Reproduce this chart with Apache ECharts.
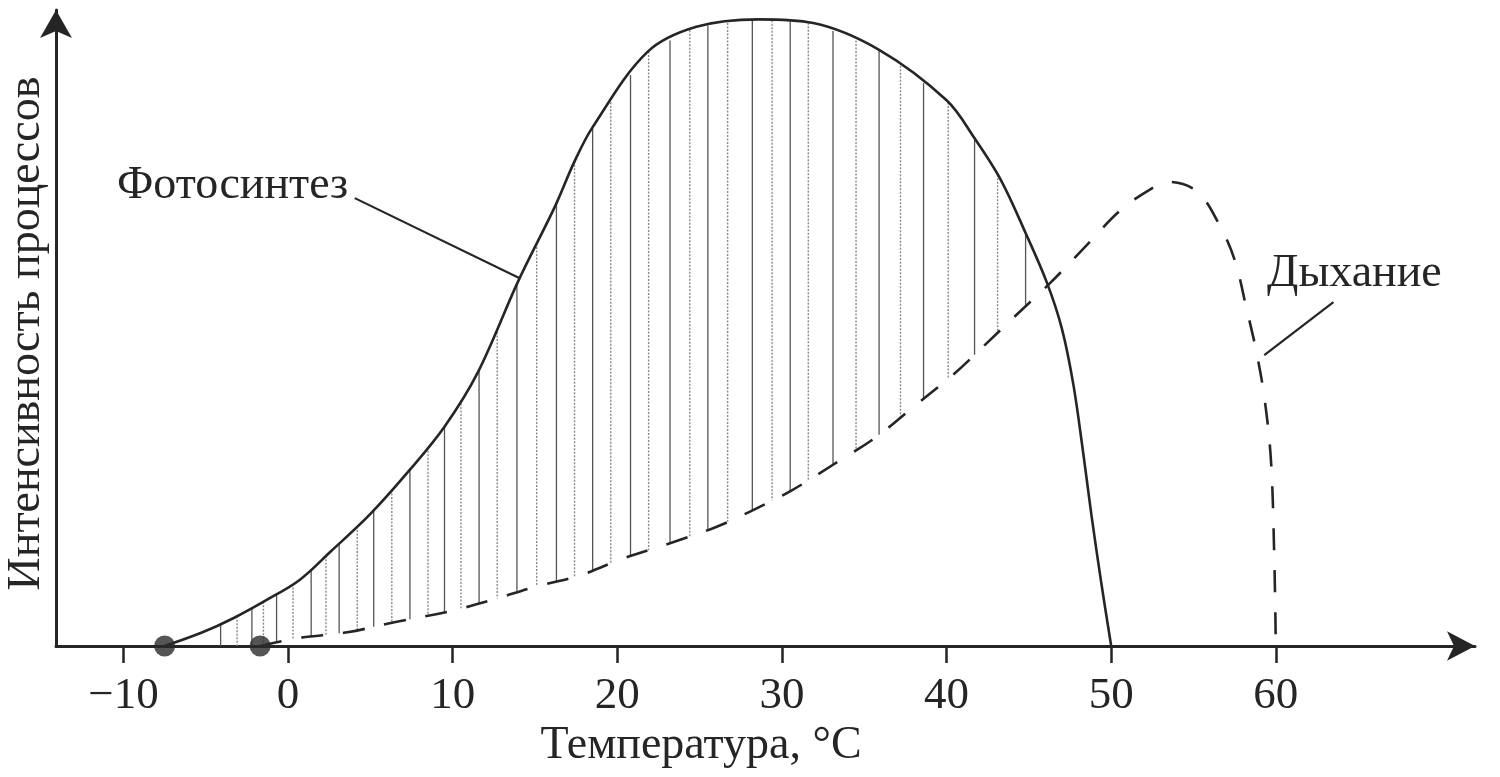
<!DOCTYPE html>
<html>
<head>
<meta charset="utf-8">
<script src="https://cdn.jsdelivr.net/npm/echarts@6/dist/echarts.min.js"></script>
<style>
html,body{margin:0;padding:0;background:#fff;}
#chart{width:1500px;height:777px;}
</style>
</head>
<body>
<div id="chart"></div>
<script>
// ---- data ----
const xTickValues = [-10, 0, 10, 20, 30, 40, 50, 60];

const photoTemp  = [-7.5, -5.2, -3.3, -1.3, 0.7, 2.6, 5.0, 7.4, 9.5, 11.5, 14.0, 16.2, 17.4, 18.5, 21.8, 24.8, 28.6, 31.9, 35.9, 40.0, 41.7, 43.3, 44.8, 46.1, 47.0, 47.7, 48.3, 48.8, 49.4, 50.0];
const photoValue = [0, 2.2, 4.5, 7.4, 10.6, 15.2, 21.2, 28.3, 35.2, 43.8, 58.7, 70.5, 77.8, 83.3, 95.3, 99.4, 100.6, 100.0, 95.7, 87.6, 81.5, 74.8, 66.3, 58.3, 51.0, 42.0, 31.0, 21.0, 10.1, 0];

const respTemp  = [-1.7, 0.7, 3.6, 6.6, 9.7, 12.4, 15.0, 17.8, 20.4, 23.2, 26.0, 28.0, 30.6, 33.1, 35.7, 38.0, 40.5, 42.2, 44.3, 46.3, 48.5, 50.5, 52.3, 53.5, 55.2, 56.5, 57.5, 58.2, 58.8, 59.3, 59.7, 59.9, 60.0];
const respValue = [0, 1.3, 2.2, 3.9, 5.5, 7.4, 9.5, 11.4, 14.1, 16.5, 19.1, 21.5, 25.0, 29.1, 33.5, 38.4, 43.8, 48.0, 53.3, 58.3, 64.3, 69.8, 73.2, 74.5, 73.0, 68.0, 62.0, 54.4, 47.5, 40.0, 30.0, 15.0, 0];

// x positions of the vertical hatch strokes between the curves
const hatchTemp = [-4.1, -3.1, -2.2, -1.5, -0.7, 0.3, 1.4, 2.3, 3.1, 4.2, 5.2, 6.3, 7.4, 8.5, 9.5, 10.5, 11.6, 12.7, 13.9, 15.1, 16.3, 17.4, 18.5, 19.6, 20.8, 21.9, 23.2, 24.4, 25.5, 26.7, 28.2, 29.4, 30.5, 31.6, 33.1, 34.5, 35.9, 37.2, 38.6, 40.1, 41.7, 43.1, 44.8];

const labelPhoto = 'Фотосинтез';
const labelResp = 'Дыхание';
const xName = 'Температура, °C';
const yName = 'Интенсивность процессов';

// ---- helpers ----
function interp(xs, ys, x) {
  if (x <= xs[0]) return x < xs[0] ? 0 : ys[0];
  for (let i = 1; i < xs.length; i++) {
    if (x <= xs[i]) {
      const f = (x - xs[i-1]) / (xs[i] - xs[i-1]);
      return ys[i-1] + f * (ys[i] - ys[i-1]);
    }
  }
  return ys[ys.length - 1];
}
const photoData = photoTemp.map((t, i) => [t, photoValue[i]]);
const respData = respTemp.map((t, i) => [t, respValue[i]]);
const hatchData = hatchTemp.map(t => [t, interp(photoTemp, photoValue, t), interp(respTemp, respValue, t)]);

const FONT = '"Liberation Serif", "Times New Roman", serif';
const INK = '#252525';

const chart = echarts.init(document.getElementById('chart'), null, {renderer: 'canvas'});
chart.setOption({
  backgroundColor: '#ffffff',
  animation: false,
  grid: {left: 56, right: 25, top: 10, bottom: 131, containLabel: false, outerBoundsMode: 'none'},
  xAxis: {
    type: 'value',
    min: -14.1,
    max: 72.1,
    name: xName,
    nameLocation: 'middle',
    nameGap: 77,
    nameTextStyle: {fontFamily: FONT, fontSize: 46, color: INK, padding: [0, 129, 0, 0]},
    axisLine: {show: true, onZero: false, symbol: ['none', 'arrow'], symbolSize: [22, 28],
      lineStyle: {color: INK, width: 3}},
    axisTick: {show: true, length: 17, customValues: xTickValues, lineStyle: {color: INK, width: 2.5}},
    axisLabel: {show: true, customValues: xTickValues, margin: 50,
      fontFamily: FONT, fontSize: 45, color: INK, verticalAlign: 'middle',
      formatter: v => (v < 0 ? '\u2212' + Math.abs(v) : String(v))},
    splitLine: {show: false}
  },
  yAxis: {
    type: 'value',
    min: 0,
    max: 102.1,
    name: yName,
    nameLocation: 'middle',
    nameGap: 6,
    nameRotate: 90,
    nameTextStyle: {fontFamily: FONT, fontSize: 46, color: INK, padding: [0, 11, 0, 0]},
    axisLine: {show: true, onZero: false, symbol: ['none', 'arrow'], symbolSize: [24, 28],
      lineStyle: {color: INK, width: 3}},
    axisTick: {show: false},
    axisLabel: {show: false},
    splitLine: {show: false}
  },
  series: [
    {
      type: 'custom',
      name: 'hatch',
      silent: true,
      z: 1,
      clip: false,
      data: hatchData,
      renderItem: function (params, api) {
        const t = api.value(0);
        const top = api.coord([t, api.value(1)]);
        const bot = api.coord([t, api.value(2)]);
        const dotted = params.dataIndex % 2 === 1;
        return {
          type: 'line',
          shape: {x1: top[0], y1: top[1], x2: bot[0], y2: bot[1]},
          style: {stroke: dotted ? '#8a8a8a' : '#555', lineWidth: dotted ? 1.4 : 1.3,
                  lineDash: dotted ? [2, 1.5] : null}
        };
      }
    },
    {
      type: 'line',
      name: labelPhoto,
      data: photoData,
      smooth: 0.35,
      showSymbol: false,
      clip: false,
      z: 3,
      lineStyle: {color: INK, width: 2.6},
      markLine: {
        silent: true, symbol: ['none', 'none'], label: {show: false},
        lineStyle: {color: INK, width: 2.2, type: 'solid'},
        data: [[{coord: [4.05, 71.9]}, {coord: [14.1, 59.0]}]]
      }
    },
    {
      type: 'line',
      name: labelResp,
      data: respData,
      smooth: 0.35,
      showSymbol: false,
      clip: false,
      z: 3,
      lineStyle: {color: INK, width: 2.6, type: [22, 20]},
      markLine: {
        silent: true, symbol: ['none', 'none'], label: {show: false},
        lineStyle: {color: INK, width: 2.2, type: 'solid'},
        data: [[{coord: [63.5, 55.2]}, {coord: [59.3, 46.7]}]]
      }
    },
    {
      type: 'scatter',
      name: 'start',
      data: [[photoTemp[0], 0], [respTemp[0], 0]],
      symbol: 'circle',
      symbolSize: 21,
      clip: false,
      z: 4,
      itemStyle: {color: '#2b2b2b'}
    }
  ],
  graphic: [
    {type: 'text', x: 117, y: 186, z: 10,
     style: {text: labelPhoto, font: '46px ' + FONT, fill: INK, verticalAlign: 'middle'}},
    {type: 'text', x: 1267, y: 274, z: 10,
     style: {text: labelResp, font: '46px ' + FONT, fill: INK, verticalAlign: 'middle'}}
  ]
});
</script>
</body>
</html>
